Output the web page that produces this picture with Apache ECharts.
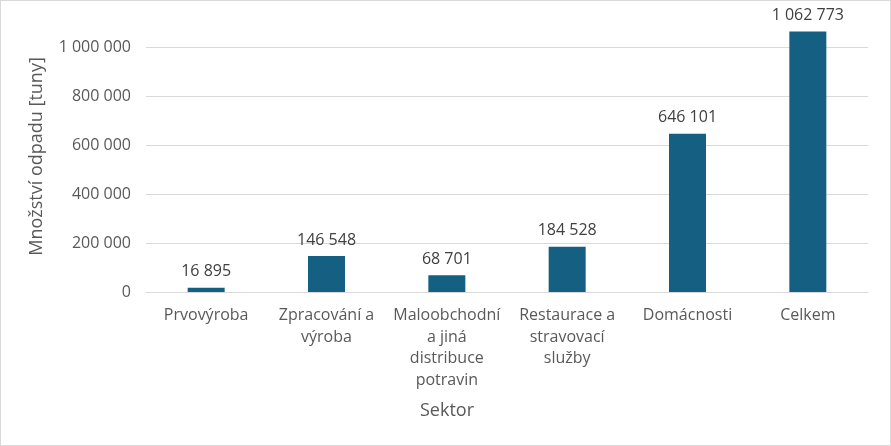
<!DOCTYPE html>
<html lang="cs">
<head>
    <meta charset="UTF-8">
    <script src="https://cdn.jsdelivr.net/npm/echarts@6/dist/echarts.min.js"></script>
    <style>
        html, body {
            margin: 0;
            padding: 0;
            background: #ffffff;
        }

        #chart {
            width: 889px;
            height: 444px;
            border: 1px solid #d9d9d9;
        }
    </style>
</head>
<body>
<div id="chart"></div>
<script type="text/javascript">
    // sektory (zalomení řádků jako v originále)
    const categories = [
        'Prvovýroba',
        'Zpracování a\nvýroba',
        'Maloobchodní\na jiná\ndistribuce\npotravin',
        'Restaurace a\nstravovací\nslužby',
        'Domácnosti',
        'Celkem'
    ];
    const values = [16895, 146548, 68701, 184528, 646101, 1062773];

    const fontName = 'Open Sans';
    const chart = echarts.init(document.getElementById('chart'));

    function fmt(v) {
        return String(v).replace(/\B(?=(\d{3})+(?!\d))/g, ' ');
    }

    chart.setOption({
        animation: false,
        textStyle: {fontFamily: fontName},
        grid: {
            left: 145,
            right: 22,
            top: 46,
            bottom: 153,
            containLabel: false
        },
        xAxis: {
            type: 'category',
            data: categories,
            name: 'Sektor',
            nameLocation: 'middle',
            nameGap: 110,
            nameTextStyle: {
                fontSize: 18,
                color: '#595959',
                padding: [0, 120, 0, 0]
            },
            axisLine: {lineStyle: {color: '#d9d9d9', width: 1}},
            axisTick: {show: false},
            axisLabel: {
                interval: 0,
                fontSize: 16,
                color: '#595959',
                lineHeight: 21.5,
                margin: 13
            }
        },
        yAxis: {
            type: 'value',
            min: 0,
            max: 1000000,
            interval: 200000,
            name: 'Množství odpadu [tuny]',
            nameLocation: 'middle',
            nameGap: 100,
            nameTextStyle: {
                fontSize: 18,
                color: '#595959',
                padding: [0, 0, 0, 26]
            },
            axisLine: {show: false},
            axisTick: {show: false},
            splitLine: {lineStyle: {color: '#d9d9d9', width: 1}},
            axisLabel: {
                fontSize: 16,
                color: '#595959',
                margin: 15,
                formatter: fmt
            }
        },
        series: [
            {
                type: 'bar',
                data: values,
                barWidth: 37,
                clip: false,
                itemStyle: {color: '#156082'},
                label: {
                    show: true,
                    position: 'top',
                    distance: 8,
                    fontSize: 16,
                    color: '#404040',
                    formatter: function (p) {
                        return fmt(p.value);
                    }
                }
            }
        ]
    });
</script>
</body>
</html>
